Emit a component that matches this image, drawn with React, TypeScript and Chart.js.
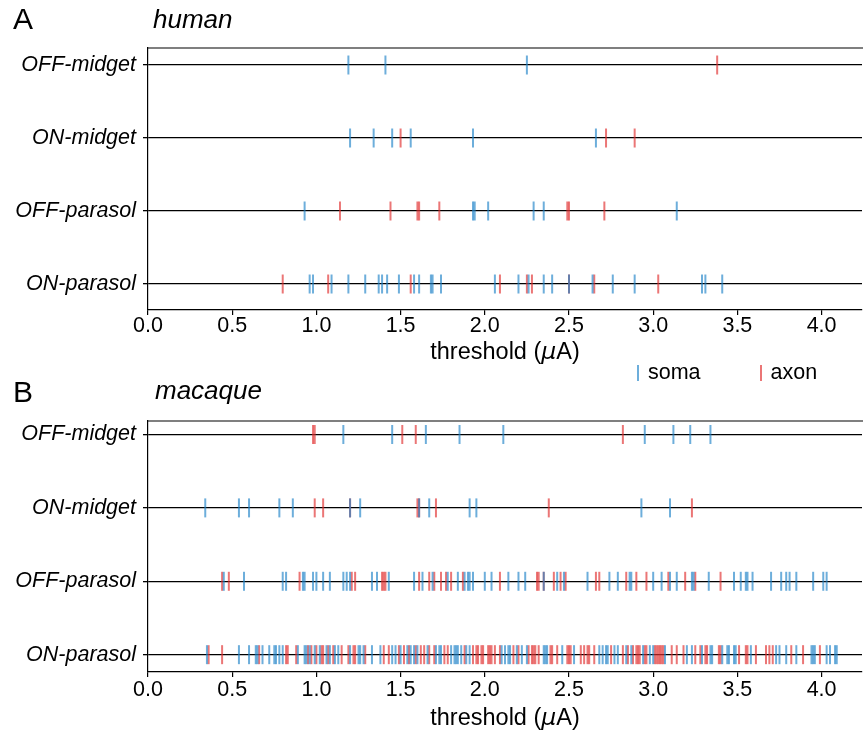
import React, { useEffect, useRef } from "react";
import { Chart, registerables } from "chart.js";
Chart.register(...registerables);

// ---------- data ----------
const rowNames = ["ON-parasol", "OFF-parasol", "ON-midget", "OFF-midget"];
const xTickValues = [0, 0.5, 1.0, 1.5, 2.0, 2.5, 3.0, 3.5, 4.0];

// human
const humanOffMidgetSoma = [1.19, 1.41, 2.25];
const humanOffMidgetAxon = [3.38];
const humanOnMidgetSoma = [1.2, 1.34, 1.45, 1.56, 1.93, 2.66];
const humanOnMidgetAxon = [1.5, 2.72, 2.89];
const humanOffParasolSoma = [0.93, 1.93, 1.94, 2.02, 2.29, 2.35, 3.14];
const humanOffParasolAxon = [1.14, 1.44, 1.6, 1.61, 1.73, 2.49, 2.5, 2.71];
const humanOnParasolSoma = [0.96, 0.98, 1.09, 1.19, 1.29, 1.37, 1.39, 1.42, 1.49, 1.58, 1.61, 1.68, 1.69, 1.74, 2.06, 2.2, 2.26, 2.35, 2.4, 2.5, 2.64, 2.76, 2.89, 3.29, 3.31, 3.41];
const humanOnParasolAxon = [0.8, 1.07, 1.56, 2.09, 2.25, 2.28, 2.5, 2.65, 3.03];

// macaque
const macOffMidgetSoma = [1.16, 1.45, 1.65, 1.85, 2.11, 2.95, 3.12, 3.22, 3.34];
const macOffMidgetAxon = [0.98, 0.99, 1.51, 1.59, 2.82];
const macOnMidgetSoma = [0.34, 0.54, 0.6, 0.78, 0.86, 1.2, 1.26, 1.61, 1.67, 1.91, 1.95, 2.93, 3.1];
const macOnMidgetAxon = [0.99, 1.04, 1.2, 1.6, 1.61, 1.71, 2.38, 3.23];
const macOffParasolSoma = [0.45, 0.57, 0.8, 0.82, 0.92, 0.93, 0.98, 1.0, 1.04, 1.08, 1.16, 1.18, 1.2, 1.33, 1.36, 1.43, 1.58, 1.63, 1.69, 1.78, 1.84, 1.88, 1.9, 1.91, 1.93, 2.0, 2.04, 2.14, 2.2, 2.24, 2.35, 2.43, 2.47, 2.61, 2.74, 2.79, 2.86, 2.87, 3.0, 3.05, 3.1, 3.14, 3.23, 3.24, 3.33, 3.48, 3.52, 3.55, 3.56, 3.59, 3.7, 3.76, 3.79, 3.81, 3.85, 3.95, 4.01, 4.03];
const macOffParasolAxon = [0.44, 0.48, 0.9, 1.21, 1.23, 1.39, 1.4, 1.41, 1.61, 1.67, 1.7, 1.74, 1.77, 1.8, 1.87, 2.09, 2.31, 2.32, 2.35, 2.41, 2.45, 2.48, 2.66, 2.68, 2.84, 2.9, 2.96, 3.09, 3.19, 3.25, 3.4];
const macOnParasolSoma = [0.35, 0.54, 0.6, 0.64, 0.65, 0.68, 0.72, 0.75, 0.76, 0.78, 0.8, 0.89, 0.93, 0.94, 0.96, 0.99, 1.02, 1.06, 1.08, 1.11, 1.13, 1.2, 1.25, 1.26, 1.28, 1.33, 1.38, 1.45, 1.47, 1.5, 1.54, 1.56, 1.58, 1.6, 1.66, 1.71, 1.73, 1.74, 1.8, 1.82, 1.83, 1.84, 1.86, 1.89, 1.91, 2.1, 2.12, 2.14, 2.15, 2.19, 2.22, 2.25, 2.35, 2.36, 2.37, 2.46, 2.53, 2.68, 2.7, 2.72, 2.73, 2.77, 2.79, 2.84, 2.87, 2.94, 2.98, 3.0, 3.07, 3.2, 3.23, 3.29, 3.34, 3.35, 3.41, 3.44, 3.45, 3.48, 3.49, 3.58, 3.73, 3.75, 3.79, 3.85, 3.94, 3.95, 3.96, 4.03, 4.05, 4.08, 4.09];
const macOnParasolAxon = [0.36, 0.44, 0.66, 0.82, 0.83, 0.88, 0.95, 0.97, 1.0, 1.03, 1.04, 1.07, 1.1, 1.15, 1.19, 1.22, 1.23, 1.29, 1.4, 1.43, 1.49, 1.52, 1.55, 1.59, 1.62, 1.64, 1.67, 1.7, 1.76, 1.78, 1.88, 1.93, 1.95, 1.96, 1.98, 1.99, 2.02, 2.03, 2.04, 2.06, 2.09, 2.17, 2.2, 2.26, 2.28, 2.29, 2.3, 2.32, 2.39, 2.4, 2.43, 2.49, 2.5, 2.51, 2.57, 2.59, 2.61, 2.62, 2.65, 2.75, 2.82, 2.85, 2.88, 2.9, 2.91, 2.92, 2.95, 2.96, 3.01, 3.02, 3.03, 3.04, 3.05, 3.06, 3.11, 3.14, 3.18, 3.25, 3.28, 3.31, 3.32, 3.39, 3.4, 3.51, 3.55, 3.56, 3.61, 3.67, 3.69, 3.71, 3.82, 3.89, 3.99];

// rows ordered bottom (0) to top (3)
const humanSomaRows = [humanOnParasolSoma, humanOffParasolSoma, humanOnMidgetSoma, humanOffMidgetSoma];
const humanAxonRows = [humanOnParasolAxon, humanOffParasolAxon, humanOnMidgetAxon, humanOffMidgetAxon];
const macSomaRows = [macOnParasolSoma, macOffParasolSoma, macOnMidgetSoma, macOffMidgetSoma];
const macAxonRows = [macOnParasolAxon, macOffParasolAxon, macOnMidgetAxon, macOffMidgetAxon];

// ---------- style ----------
const FONT = "'Liberation Sans', Arial, Helvetica, sans-serif";
const SOMA_COLOR = "rgba(30,130,200,0.65)";
const AXON_COLOR = "rgba(225,45,45,0.65)";
const TICK_FONT = 21.5;

function toPoints(rows: number[][]) {
  const pts: { x: number; y: number }[] = [];
  rows.forEach((vals, r) => vals.forEach((v) => pts.push({ x: v, y: r })));
  return pts;
}

function tickDataset(label: string, rows: number[][], color: string) {
  return {
    label,
    data: toPoints(rows),
    pointStyle: "line",
    rotation: 90,
    radius: 9.5,
    hoverRadius: 9.5,
    borderWidth: 2,
    borderColor: color,
    backgroundColor: color,
    showLine: false,
  };
}

const topSpine = {
  id: "topSpine",
  afterDraw(chart: any) {
    const { ctx, chartArea } = chart;
    ctx.save();
    ctx.strokeStyle = "#000";
    ctx.lineWidth = 1.2;
    ctx.beginPath();
    ctx.moveTo(chartArea.left, chartArea.top);
    ctx.lineTo(chartArea.right + 2, chartArea.top);
    ctx.stroke();
    ctx.restore();
  },
};

type PanelProps = {
  top: number;
  height: number;
  padTop: number;
  xAxisH: number;
  tickPad: number;
  yMin: number;
  yMax: number;
  somaRows: number[][];
  axonRows: number[][];
};

function Panel(p: PanelProps) {
  const ref = useRef<HTMLCanvasElement>(null);
  useEffect(() => {
    if (!ref.current) return;
    const chart = new Chart(ref.current, {
      type: "scatter",
      data: {
        datasets: [
          tickDataset("soma", p.somaRows, SOMA_COLOR) as any,
          tickDataset("axon", p.axonRows, AXON_COLOR) as any,
        ],
      },
      options: {
        animation: false,
        responsive: false,
        events: [],
        layout: { autoPadding: false, padding: { top: p.padTop, left: 0, right: 1, bottom: 0 } },
        plugins: { legend: { display: false }, tooltip: { enabled: false } },
        scales: {
          x: {
            type: "linear",
            min: 0,
            max: 4.24,
            afterBuildTicks: (s: any) => {
              s.ticks = xTickValues.map((v) => ({ value: v }));
            },
            afterFit: (s: any) => {
              s.height = p.xAxisH;
              s.paddingLeft = 0;
              s.paddingRight = 0;
            },
            grid: { display: true, drawOnChartArea: false, drawTicks: true, tickLength: 5, color: "#000", lineWidth: 1.2 },
            border: { display: true, color: "#000", width: 1.2 },
            ticks: {
              color: "#000",
              font: { size: TICK_FONT, family: FONT, lineHeight: 1 },
              padding: p.tickPad,
              maxRotation: 0,
              autoSkip: false,
              callback: (v: any) => Number(v).toFixed(1),
            },
            title: { display: false },
          },
          y: {
            type: "linear",
            min: p.yMin,
            max: p.yMax,
            afterBuildTicks: (s: any) => {
              s.ticks = [0, 1, 2, 3].map((v) => ({ value: v }));
            },
            afterFit: (s: any) => {
              s.width = 148;
              s.paddingTop = 0;
              s.paddingBottom = 0;
            },
            grid: { color: "#000", lineWidth: 1.3, tickLength: 5, drawTicks: true },
            border: { display: true, color: "#000", width: 1.2 },
            ticks: {
              color: "#000",
              font: { size: TICK_FONT, family: FONT, style: "italic", lineHeight: 1 },
              padding: 7,
              callback: (v: any) => rowNames[Math.round(Number(v))],
            },
          },
        },
      },
      plugins: [topSpine],
    });
    return () => chart.destroy();
  }, []);
  return (
    <canvas
      ref={ref}
      width={863}
      height={p.height}
      style={{ position: "absolute", left: 0, top: p.top, width: 863, height: p.height, display: "block" }}
    />
  );
}

const textBase: React.CSSProperties = {
  position: "absolute",
  fontFamily: FONT,
  color: "#000",
  lineHeight: 1,
  whiteSpace: "nowrap",
};

function AxisTitle({ top }: { top: number }) {
  return (
    <div style={{ ...textBase, left: 148, width: 714, top, fontSize: 23.5, textAlign: "center" }}>
      threshold (<span style={{ fontFamily: "'DejaVu Sans', sans-serif", fontStyle: "italic" }}>μ</span>A)
    </div>
  );
}

export default function App() {
  return (
    <div style={{ position: "absolute", left: 0, top: 0, width: 863, height: 735, background: "#fff", overflow: "hidden" }}>
      <Panel top={0} height={370} padTop={48} xAxisH={60} tickPad={0} yMin={-0.356} yMax={3.233} somaRows={humanSomaRows} axonRows={humanAxonRows} />
      <Panel top={380} height={355} padTop={41} xAxisH={63} tickPad={2} yMin={-0.236} yMax={3.184} somaRows={macSomaRows} axonRows={macAxonRows} />
      <AxisTitle top={340} />
      <AxisTitle top={706} />
      <div style={{ ...textBase, left: 13, top: 4, fontSize: 30 }}>A</div>
      <div style={{ ...textBase, left: 153, top: 6, fontSize: 26, fontStyle: "italic" }}>human</div>
      <div style={{ ...textBase, left: 13, top: 377, fontSize: 30 }}>B</div>
      <div style={{ ...textBase, left: 155, top: 377, fontSize: 26, fontStyle: "italic" }}>macaque</div>
      <div style={{ ...textBase, left: 637, top: 362, fontSize: 21.5, display: "flex", alignItems: "center" }}>
        <span style={{ display: "inline-block", width: 2, height: 16, background: SOMA_COLOR, marginRight: 9 }} />
        <span>soma</span>
        <span style={{ display: "inline-block", width: 2, height: 16, background: AXON_COLOR, marginLeft: 59, marginRight: 9 }} />
        <span>axon</span>
      </div>
    </div>
  );
}
